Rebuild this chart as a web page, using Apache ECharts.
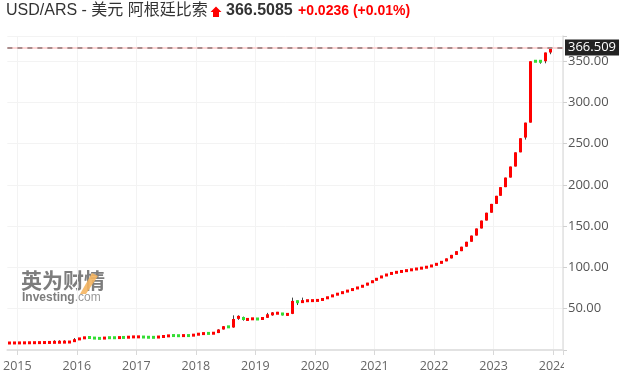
<!DOCTYPE html>
<html>
<head>
<meta charset="utf-8">
<script src="https://cdn.jsdelivr.net/npm/echarts@6/dist/echarts.min.js"></script>
<style>
html,body{margin:0;padding:0;background:#fff;}
#chart{width:623px;height:384px;}
</style>
</head>
<body>
<div id="chart"></div>
<script>
// ---- data ----
const titleText = 'USD/ARS - 美元 阿根廷比索';
const lastPrice = 366.5085;
const changeText = '+0.0236 (+0.01%)';
const yTicks = [50, 100, 150, 200, 250, 300, 350];

const months = [
  '2014-11','2014-12',
  '2015-01','2015-02','2015-03','2015-04','2015-05','2015-06','2015-07','2015-08','2015-09','2015-10','2015-11','2015-12',
  '2016-01','2016-02','2016-03','2016-04','2016-05','2016-06','2016-07','2016-08','2016-09','2016-10','2016-11','2016-12',
  '2017-01','2017-02','2017-03','2017-04','2017-05','2017-06','2017-07','2017-08','2017-09','2017-10','2017-11','2017-12',
  '2018-01','2018-02','2018-03','2018-04','2018-05','2018-06','2018-07','2018-08','2018-09','2018-10','2018-11','2018-12',
  '2019-01','2019-02','2019-03','2019-04','2019-05','2019-06','2019-07','2019-08','2019-09','2019-10','2019-11','2019-12',
  '2020-01','2020-02','2020-03','2020-04','2020-05','2020-06','2020-07','2020-08','2020-09','2020-10','2020-11','2020-12',
  '2021-01','2021-02','2021-03','2021-04','2021-05','2021-06','2021-07','2021-08','2021-09','2021-10','2021-11','2021-12',
  '2022-01','2022-02','2022-03','2022-04','2022-05','2022-06','2022-07','2022-08','2022-09','2022-10','2022-11','2022-12',
  '2023-01','2023-02','2023-03','2023-04','2023-05','2023-06','2023-07','2023-08','2023-09','2023-10','2023-11','2023-12',
  '2024-01','2024-02'
];

const opens = [
  8.45, 8.53,
  8.55, 8.64, 8.72, 8.82, 8.90, 8.99, 9.09, 9.21, 9.36, 9.42, 9.63, 9.71,
  12.94, 13.97, 15.55, 14.70, 14.22, 13.96, 14.95, 14.90, 14.85, 15.25, 15.15, 15.85,
  15.90, 15.95, 15.50, 15.38, 15.30, 16.13, 16.60, 17.67, 17.35, 17.31, 17.60, 17.38,
  18.60, 19.67, 20.12, 20.10, 20.55, 24.87, 28.85, 27.31, 37.90, 40.00, 36.40, 37.70,
  37.90, 37.30, 39.00, 43.30, 44.30, 44.80, 42.50, 43.80, 59.50, 57.60, 59.70, 59.80,
  59.90, 60.30, 62.20, 64.40, 66.80, 68.50, 70.50, 72.30, 74.20, 76.20, 78.30, 81.40,
  84.10, 87.30, 89.80, 92.00, 93.60, 94.70, 95.70, 96.70, 97.70, 98.70, 99.70, 101.00,
  102.70, 105.00, 107.50, 111.00, 115.30, 119.80, 125.20, 131.20, 138.70, 147.30, 156.90, 166.40,
  177.10, 186.90, 197.40, 209.00, 222.40, 239.60, 257.50, 275.60, 350.00, 349.98, 350.00, 360.60
];
const closes = [
  8.53, 8.55,
  8.64, 8.72, 8.82, 8.90, 8.99, 9.09, 9.21, 9.36, 9.42, 9.63, 9.71, 12.94,
  13.97, 15.55, 14.70, 14.22, 13.96, 14.95, 14.90, 14.85, 15.25, 15.15, 15.85, 15.90,
  15.95, 15.50, 15.38, 15.30, 16.13, 16.60, 17.67, 17.35, 17.31, 17.60, 17.38, 18.60,
  19.67, 20.12, 20.10, 20.55, 24.87, 28.85, 27.31, 37.60, 41.20, 36.40, 37.70, 37.90,
  37.30, 39.00, 43.30, 44.30, 44.80, 42.50, 43.80, 59.50, 57.60, 59.70, 59.80, 59.90,
  60.30, 62.20, 64.40, 66.80, 68.50, 70.50, 72.30, 74.20, 76.20, 78.30, 81.40, 84.10,
  87.30, 89.80, 92.00, 93.60, 94.70, 95.70, 96.70, 97.70, 98.70, 99.70, 101.00, 102.70,
  105.00, 107.50, 111.00, 115.30, 119.80, 125.20, 131.20, 138.70, 147.30, 156.90, 166.40, 177.10,
  186.90, 197.40, 209.00, 222.40, 239.60, 256.70, 275.60, 350.00, 349.95, 349.90, 360.60, 366.5085
];
const lows = [
  8.44, 8.52,
  8.55, 8.64, 8.72, 8.82, 8.90, 8.99, 9.09, 9.20, 9.35, 9.41, 9.62, 9.70,
  12.90, 13.90, 14.50, 13.90, 13.70, 13.90, 14.60, 14.70, 14.80, 15.00, 15.10, 15.50,
  15.70, 15.40, 15.30, 15.20, 15.30, 16.10, 16.60, 17.20, 17.10, 17.30, 17.20, 17.30,
  18.50, 19.50, 19.90, 20.10, 20.50, 24.80, 27.00, 27.00, 36.50, 35.50, 36.00, 37.20,
  36.80, 37.20, 38.80, 41.50, 44.00, 41.80, 41.50, 43.50, 54.50, 57.50, 59.60, 59.70,
  59.80, 60.30, 62.20, 64.40, 66.80, 68.50, 70.50, 72.30, 74.20, 76.20, 78.30, 81.40,
  84.10, 87.30, 89.80, 92.00, 93.60, 94.70, 95.70, 96.70, 97.70, 98.70, 99.70, 101.00,
  102.70, 105.00, 107.50, 111.00, 115.30, 119.80, 125.20, 131.20, 138.70, 147.30, 156.90, 166.40,
  177.10, 186.90, 197.40, 209.00, 222.40, 239.60, 255.00, 275.60, 349.50, 347.00, 347.50, 358.50
];
const highs = [
  8.54, 8.56,
  8.65, 8.73, 8.83, 8.91, 9.00, 9.10, 9.22, 11.8, 11.8, 11.8, 9.75, 14.50,
  14.10, 15.90, 15.60, 14.80, 14.30, 15.10, 15.10, 15.20, 15.40, 15.40, 16.00, 16.10,
  16.10, 16.00, 15.60, 15.50, 16.20, 16.70, 17.80, 17.80, 17.50, 17.80, 17.70, 18.80,
  19.80, 20.30, 20.40, 20.70, 25.20, 29.00, 29.00, 42.00, 42.00, 40.50, 38.00, 38.20,
  38.00, 39.30, 45.00, 46.00, 46.20, 44.90, 44.00, 63.50, 60.00, 63.50, 59.90, 60.00,
  60.40, 62.20, 64.40, 66.80, 68.50, 70.50, 72.30, 74.20, 76.20, 78.30, 81.40, 84.10,
  87.30, 89.80, 92.00, 93.60, 94.70, 95.70, 96.70, 97.70, 98.70, 99.70, 101.00, 102.70,
  105.00, 107.50, 111.00, 115.30, 119.80, 125.20, 131.20, 138.70, 147.30, 156.90, 166.40, 177.10,
  186.90, 197.40, 209.00, 222.40, 239.60, 256.70, 275.60, 350.00, 350.10, 350.00, 360.60, 366.60
];

// ---- chart ----
const upColor = '#ff0000';
const downColor = '#33dd33';
const candleData = opens.map((o, i) => [i, o, closes[i], lows[i], highs[i]]);
const isJan = (idx, val) => String(val).slice(5) === '01';

function renderCandle(params, api) {
  const i = api.value(0);
  const o = api.value(1), c = api.value(2), l = api.value(3), h = api.value(4);
  const pO = api.coord([i, o]), pC = api.coord([i, c]);
  const pL = api.coord([i, l]), pH = api.coord([i, h]);
  const cx = pO[0];
  let top = Math.min(pO[1], pC[1]);
  let bot = Math.max(pO[1], pC[1]);
  if (bot - top < 3) { const m = (top + bot) / 2; top = m - 1.5; bot = m + 1.5; }
  const bx = Math.round(cx - 1.5);
  const wx = bx + 1.5;
  return {
    type: 'group',
    children: [
      { type: 'line', shape: { x1: wx, y1: pH[1], x2: wx, y2: pL[1] }, style: { stroke: '#444', lineWidth: 1 } },
      { type: 'rect', shape: { x: bx, y: top, width: 3, height: bot - top }, style: { fill: c >= o ? upColor : downColor } }
    ]
  };
}

const chart = echarts.init(document.getElementById('chart'), null, { renderer: 'canvas' });
const option = {
  animation: false,
  backgroundColor: '#fff',
  grid: { left: 6, right: 60, top: 36, bottom: 34 },
  xAxis: {
    type: 'category',
    data: months,
    boundaryGap: true,
    offset: 3,
    axisLine: { show: true, lineStyle: { color: '#e2e2e2', width: 2 } },
    axisTick: { show: true, interval: isJan, length: 5, lineStyle: { color: '#d8d8d8' } },
    axisLabel: {
      interval: isJan,
      formatter: v => v.slice(0, 4),
      color: '#666',
      fontSize: 12.5,
      fontFamily: 'Open Sans',
      margin: 7,
      padding: [0, 5, 0, 0]
    },
    splitLine: { show: true, interval: isJan, lineStyle: { color: '#f3f3f3', width: 1 } }
  },
  yAxis: {
    type: 'value',
    position: 'right',
    min: 0,
    max: 380.6,
    interval: 50,
    axisLine: { show: true, lineStyle: { color: '#e2e2e2', width: 1.5 } },
    axisTick: { show: true, length: 4, lineStyle: { color: '#d0d0d0' } },
    axisLabel: {
      formatter: v => (yTicks.indexOf(v) >= 0 ? v.toFixed(2) : ''),
      color: '#555',
      fontSize: 13,
      fontFamily: 'Open Sans',
      margin: 5
    },
    splitLine: { show: true, lineStyle: { color: '#f3f3f3', width: 1 } }
  },
  series: [
    {
      type: 'custom',
      renderItem: renderCandle,
      data: candleData,
      encode: { x: 0, y: [1, 2, 3, 4] },
      clip: false,
      markLine: {
        symbol: 'none',
        silent: true,
        animation: false,
        data: [
          { yAxis: lastPrice, lineStyle: { color: '#ffd6d6', type: 'solid', width: 2 }, label: { show: false } },
          {
            yAxis: lastPrice,
            lineStyle: { color: '#a88c8c', type: [5, 5], width: 2 },
            label: {
              show: true,
              position: 'end',
              distance: 2,
              formatter: () => lastPrice.toFixed(3),
              color: '#fff',
              backgroundColor: '#222',
              padding: [2, 3, 1, 3],
              fontSize: 13,
              fontFamily: 'Open Sans'
            }
          }
        ]
      }
    }
  ],
  graphic: [
    { type: 'rect', shape: { x: 564, y: 357, width: 60, height: 27 }, style: { fill: '#fff' }, z: 100 },
    { type: 'text', left: 6, top: 3, style: { text: titleText, font: '16px "Liberation Sans", "Noto Sans CJK SC", sans-serif', fill: '#333' } },
    { type: 'polygon', shape: { points: [[216, 6.5], [221.5, 12], [219, 12], [219, 17], [213, 17], [213, 12], [210.5, 12]] }, style: { fill: '#ff0000' } },
    { type: 'text', left: 226, top: 3, style: { text: lastPrice.toFixed(4), font: 'bold 16px "Liberation Sans", sans-serif', fill: '#333' } },
    { type: 'text', left: 298, top: 4.5, style: { text: changeText, font: 'bold 14px "Liberation Sans", sans-serif', fill: '#ff0000' } },
    { type: 'text', left: 21, top: 270, style: { text: '英为财情', font: 'bold 21px "Noto Sans CJK SC", sans-serif', fill: '#7d7d7d' } },
    { type: 'polygon', shape: { points: [[80, 294], [86, 294], [98, 276], [92, 273]] }, style: { fill: '#f5b561', opacity: 0.9 } },
    { type: 'text', left: 22, top: 292, style: { rich: { a: { font: 'bold 12px "Liberation Sans", sans-serif', fill: '#7d7d7d' }, b: { font: '12px "Liberation Sans", sans-serif', fill: '#9a9a9a' } }, text: '{a|Investing}{b|.com}' } }
  ]
};
chart.setOption(option);
</script>
</body>
</html>
